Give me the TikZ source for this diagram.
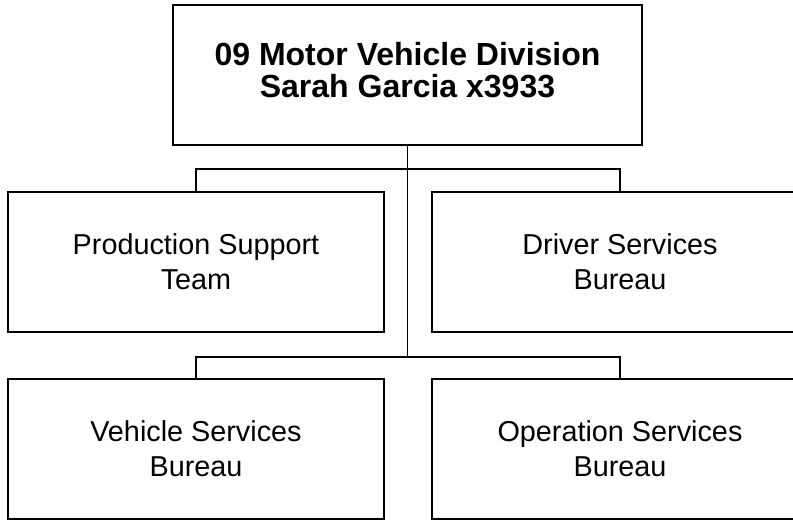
\documentclass[tikz,border=0pt]{standalone}
\usepackage{fontspec}
\setmainfont{Liberation Sans}
\usepackage{tikz}

\begin{document}
\begin{tikzpicture}[x=1pt,y=-1pt,
        unit/.style={draw,line width=1.5pt,minimum width=376pt,minimum height=140pt,align=center,inner sep=0pt,
            font=\fontsize{28.8}{35}\selectfont},
        head/.style={unit,minimum width=469pt,text depth=10pt,font=\fontsize{32}{32.5}\selectfont\bfseries},
        wire/.style={line width=1.5pt}]
        \clip (0,0) rectangle (793,521);
        \node[head] (mvd) at (407.5,75) {09 Motor Vehicle Division\\Sarah Garcia x3933};
        \node[unit] (pst) at (196,262) {Production Support\\Team};
        \node[unit] (dsb) at (620,262) {Driver Services\\Bureau};
        \node[unit] (vsb) at (196,449) {Vehicle Services\\Bureau};
        \node[unit] (osb) at (620,449) {Operation Services\\Bureau};
        \coordinate (bus1) at (407.5,169);
        \coordinate (bus2) at (407.5,357);
        \draw[wire] (mvd.south) -- (bus2);
        \draw[wire] (pst.north) |- (bus1) -| (dsb.north);
        \draw[wire] (vsb.north) |- (bus2) -| (osb.north);
    \end{tikzpicture}
\end{document}
